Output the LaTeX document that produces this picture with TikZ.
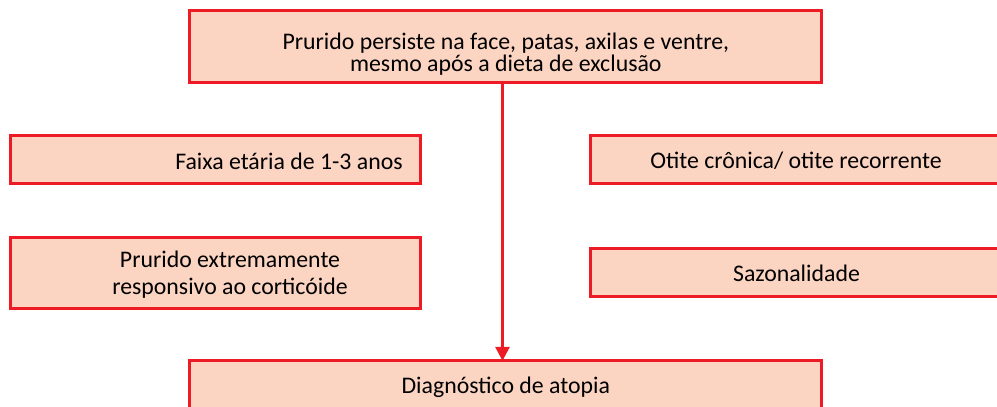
\documentclass[tikz,border=0pt]{standalone}
\usepackage{fontspec}
\setmainfont{Carlito}
\usetikzlibrary{arrows.meta}
\definecolor{boxred}{RGB}{237,28,36}
\definecolor{boxfill}{RGB}{252,212,194}
\begin{document}
\begin{tikzpicture}[x=1pt,y=-1pt,
  box/.style={draw=boxred, fill=boxfill, line width=3pt, inner sep=0pt, outer sep=0pt},
  txt/.style={font=\fontsize{23.8}{22.7}\selectfont, align=center, inner sep=0pt, anchor=base},
  txtwide/.style={font=\fontsize{23.8}{26.7}\selectfont, align=center, inner sep=0pt, anchor=base},
  link/.style={draw=boxred, line width=3pt, -{Triangle[length=14pt,width=14pt]}}
  ]
\useasboundingbox (0,0) rectangle (997,407);
\clip (0,0) rectangle (997,407);
% boxes
\node[box, minimum width=632pt, minimum height=71.6pt] (top) at (505.5,46.5) {};
\node[box, minimum width=632pt, minimum height=71.2pt] (bot) at (505.5,396.4) {};
\node[box, minimum width=410pt, minimum height=47.5pt] (age) at (215.5,159.25) {};
\node[box, minimum width=410pt, minimum height=70.5pt] (cort) at (215.5,272.75) {};
\node[box, minimum width=419.5pt, minimum height=47.5pt] (otite) at (800.25,159.25) {};
\node[box, minimum width=419.5pt, minimum height=48.5pt] (sazon) at (800.25,272.25) {};
% texts
\node[txt] (ttop) at (505.8,71.7) {Prurido persiste na face, patas, axilas e ventre,\\mesmo após a dieta de exclusão};
\node[txt] (tage) at (289,169.3) {Faixa etária de 1-3 anos};
\node[txtwide] (tcort) at (230,294) {Prurido extremamente\\responsivo ao corticóide};
\node[txt] (totite) at (796,168.3) {Otite crônica/ otite recorrente};
\node[txt] (tsazon) at (796.5,281) {Sazonalidade};
\node[txt] (tbot) at (505.8,393.3) {Diagnóstico de atopia};
% connector
\draw[link] ([xshift=-3pt]top.south) -- ([xshift=-3pt]bot.north);
\end{tikzpicture}
\end{document}
